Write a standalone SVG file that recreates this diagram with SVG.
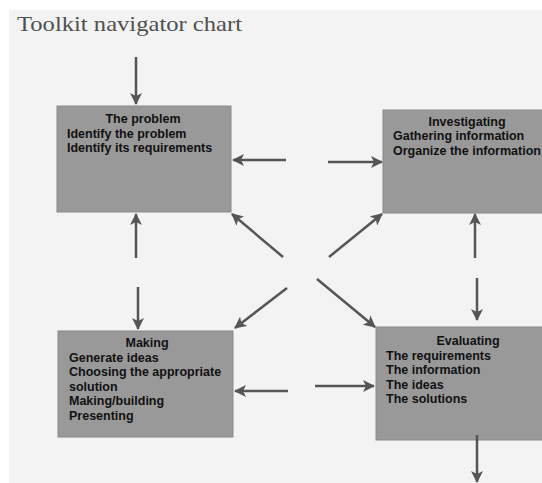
<svg xmlns="http://www.w3.org/2000/svg" width="542" height="483" viewBox="0 0 542 483">
<defs>
<marker id="ah" viewBox="0 0 12 12" refX="11" refY="6" markerWidth="12" markerHeight="12" markerUnits="userSpaceOnUse" orient="auto">
<path d="M0,0 L12,6 L0,12 L3,6 z" fill="#555"/>
</marker>
<style>
.box{fill:#999999;stroke:#8a8a8a;stroke-width:1}
.t{font-family:"Liberation Sans",Arial,sans-serif;font-weight:bold;font-size:12.5px;fill:#111}
.c{text-anchor:middle}
.ar{stroke:#555;stroke-width:2.5;fill:none;marker-end:url(#ah)}
</style>
</defs>
<rect x="0" y="0" width="542" height="483" fill="#ffffff"/>
<rect x="9" y="10" width="533" height="473" fill="#f3f3f3"/>
<text x="17" y="31" font-family="Liberation Serif,'DejaVu Serif',serif" font-size="21" fill="#505050" textLength="225" lengthAdjust="spacingAndGlyphs">Toolkit navigator chart</text>
<g id="problem">
<rect class="box" x="57" y="106" width="174" height="106"/>
<text class="t c" x="143" y="123">The problem</text>
<text class="t" x="67" y="137.5">Identify the problem</text>
<text class="t" x="67" y="152">Identify its requirements</text>
</g>
<g id="investigating">
<rect class="box" x="383" y="110" width="165" height="103"/>
<text class="t c" x="467" y="126">Investigating</text>
<text class="t" x="393" y="140">Gathering information</text>
<text class="t" x="393" y="154.5">Organize the information</text>
</g>
<g id="making">
<rect class="box" x="58" y="331" width="175" height="106"/>
<text class="t c" x="147" y="347">Making</text>
<text class="t" x="69" y="361.5">Generate ideas</text>
<text class="t" x="69" y="376">Choosing the appropriate</text>
<text class="t" x="69" y="390.5">solution</text>
<text class="t" x="69" y="405">Making/building</text>
<text class="t" x="69" y="419.5">Presenting</text>
</g>
<g id="evaluating">
<rect class="box" x="376" y="327" width="172" height="113"/>
<text class="t c" x="468" y="345" font-size="13">Evaluating</text>
<text class="t" x="386" y="359.5" font-size="13">The requirements</text>
<text class="t" x="386" y="374" font-size="13">The information</text>
<text class="t" x="386" y="388.5" font-size="13">The ideas</text>
<text class="t" x="386" y="403" font-size="13">The solutions</text>
</g>
<g id="connectors">
<line class="ar" x1="136" y1="57" x2="136" y2="104"/>
<line class="ar" x1="286" y1="160" x2="233" y2="160"/>
<line class="ar" x1="328" y1="162" x2="382" y2="162"/>
<line class="ar" x1="283" y1="257" x2="232" y2="214"/>
<line class="ar" x1="329" y1="257" x2="382" y2="214"/>
<line class="ar" x1="287" y1="288" x2="235" y2="328"/>
<line class="ar" x1="317" y1="279" x2="375" y2="327"/>
<line class="ar" x1="136" y1="258" x2="136" y2="214"/>
<line class="ar" x1="138" y1="287" x2="138" y2="329"/>
<line class="ar" x1="475" y1="258" x2="475" y2="214"/>
<line class="ar" x1="477" y1="278" x2="477" y2="320"/>
<line class="ar" x1="288" y1="391" x2="235" y2="391"/>
<line class="ar" x1="315" y1="386" x2="374" y2="386"/>
<line class="ar" x1="477" y1="435" x2="477" y2="482"/>
</g>
</svg>
